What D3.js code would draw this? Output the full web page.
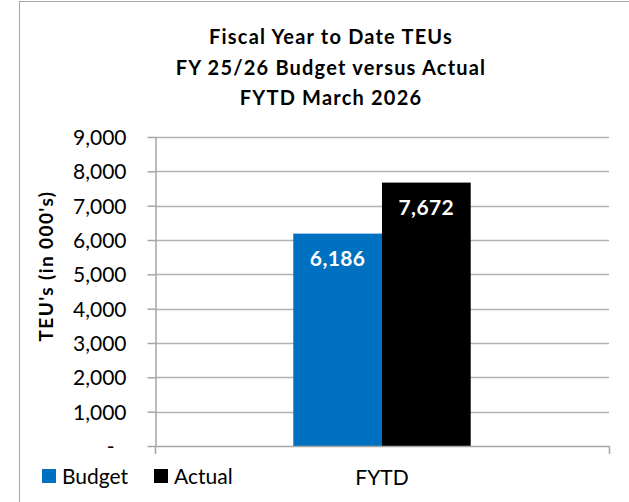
<!DOCTYPE html>
<html>
<head>
<meta charset="utf-8">
<script src="https://cdn.jsdelivr.net/npm/d3@7"></script>
<style>
  html, body { margin: 0; padding: 0; background: #fff; }
  svg text { font-family: Lato, "Open Sans", sans-serif; }
</style>
</head>
<body>
<svg id="chart"></svg>
<script>
const categories = ['FYTD'];
const seriesNames = ['Budget', 'Actual'];
const seriesValues = [6186, 7672];
const seriesColors = ['#0070C0', '#000000'];
const yTicks = [0, 1000, 2000, 3000, 4000, 5000, 6000, 7000, 8000, 9000];
const titleLines = ['Fiscal Year to Date TEUs', 'FY 25/26 Budget versus Actual', 'FYTD March 2026'];
const yTitle = "TEU's (in 000's)";

const width = 629;
const height = 502;
const plot = { left: 155, right: 609, top: 137, bottom: 446 };

const svg = d3.select('#chart')
  .attr('width', width)
  .attr('height', height);

// chart frame (right/bottom edges fall outside the window)
svg.append('rect')
  .attr('x', 19.5).attr('y', 1.5)
  .attr('width', 700).attr('height', 600)
  .attr('fill', '#fff')
  .attr('stroke', '#a6a6a6')
  .attr('stroke-width', 1);

// title
svg.append('g')
  .selectAll('text')
  .data(titleLines)
  .enter()
  .append('text')
  .attr('x', 331)
  .attr('y', (d, i) => 44 + i * 30.5)
  .attr('text-anchor', 'middle')
  .style('font-weight', 'bold')
  .style('font-size', '20px')
  .style('letter-spacing', '1.2px')
  .attr('fill', '#000')
  .text(d => d);

const y = d3.scaleLinear()
  .domain([0, d3.max(yTicks)])
  .range([plot.bottom, plot.top]);

const x0 = d3.scaleBand()
  .domain(categories)
  .range([plot.left, plot.right])
  .paddingInner(0.438)
  .paddingOuter(0.438);

const x1 = d3.scaleBand()
  .domain(seriesNames)
  .range([0, x0.bandwidth()]);

const color = d3.scaleOrdinal()
  .domain(seriesNames)
  .range(seriesColors);

// gridlines
svg.append('g')
  .selectAll('line')
  .data(yTicks.filter(d => d > 0))
  .enter()
  .append('line')
  .attr('x1', plot.left)
  .attr('x2', plot.right)
  .attr('y1', d => Math.round(y(d)) + 0.5)
  .attr('y2', d => Math.round(y(d)) + 0.5)
  .attr('stroke', '#b3b3b3')
  .attr('stroke-width', 1.5);

// y axis
const yAxis = svg.append('g')
  .attr('transform', `translate(${plot.left + 0.5},0)`)
  .call(d3.axisLeft(y)
    .tickValues(yTicks)
    .tickSize(8)
    .tickSizeOuter(0)
    .tickPadding(21)
    .tickFormat(d => d === 0 ? '-' : d3.format(',')(d)));

yAxis.select('.domain').attr('stroke', '#a6a6a6').attr('stroke-width', 1.5);
yAxis.selectAll('.tick line').attr('stroke', '#a6a6a6').attr('stroke-width', 1.5);
yAxis.selectAll('.tick text')
  .style('font-size', '21px')
  .attr('fill', '#000')
  .attr('dy', '0.36em');
yAxis.selectAll('.tick text').filter(d => d === 0).attr('dx', -12);

// bars
const groups = svg.append('g')
  .selectAll('g')
  .data(categories)
  .enter()
  .append('g')
  .attr('transform', d => `translate(${x0(d)},0)`);

const bars = groups.selectAll('g')
  .data(() => seriesNames.map((s, i) => ({ key: s, value: seriesValues[i] })))
  .enter()
  .append('g');

bars.append('rect')
  .attr('x', d => x1(d.key))
  .attr('y', d => y(d.value))
  .attr('width', x1.bandwidth())
  .attr('height', d => y(0) - y(d.value))
  .attr('fill', d => color(d.key));

bars.append('text')
  .attr('x', d => x1(d.key) + x1.bandwidth() / 2)
  .attr('y', d => y(d.value) + 32)
  .attr('text-anchor', 'middle')
  .style('font-weight', 'bold')
  .style('font-size', '21px')
  .style('letter-spacing', '0.4px')
  .attr('fill', '#fff')
  .text(d => d3.format(',')(d.value));

// x axis: baseline and category boundary ticks
const xAxis = svg.append('g');
xAxis.append('line')
  .attr('x1', plot.left).attr('x2', plot.right)
  .attr('y1', y(0) + 0.5).attr('y2', y(0) + 0.5)
  .attr('stroke', '#a6a6a6').attr('stroke-width', 1.5);
xAxis.selectAll('line.edge')
  .data(x0.range())
  .enter()
  .append('line')
  .attr('class', 'edge')
  .attr('x1', d => d + 0.5).attr('x2', d => d + 0.5)
  .attr('y1', y(0)).attr('y2', y(0) + 8)
  .attr('stroke', '#a6a6a6').attr('stroke-width', 1.5);
xAxis.selectAll('text')
  .data(categories)
  .enter()
  .append('text')
  .attr('x', d => x0(d) + x0.bandwidth() / 2)
  .attr('y', 485)
  .attr('text-anchor', 'middle')
  .style('font-size', '21px')
  .attr('fill', '#000')
  .text(d => d);

// y axis title
svg.append('text')
  .attr('transform', 'translate(53,266) rotate(-90)')
  .attr('text-anchor', 'middle')
  .style('font-weight', 'bold')
  .style('font-size', '19px')
  .style('letter-spacing', '1.4px')
  .attr('fill', '#000')
  .text(yTitle);

// legend
const legendX = [42, 154];
const legend = svg.append('g')
  .selectAll('g')
  .data(seriesNames)
  .enter()
  .append('g')
  .attr('transform', (d, i) => `translate(${legendX[i]},469)`);

legend.append('rect')
  .attr('width', 14)
  .attr('height', 14)
  .attr('fill', d => color(d));

legend.append('text')
  .attr('x', 20)
  .attr('y', 15)
  .style('font-size', '21px')
  .attr('fill', '#000')
  .text(d => d);
</script>
</body>
</html>
